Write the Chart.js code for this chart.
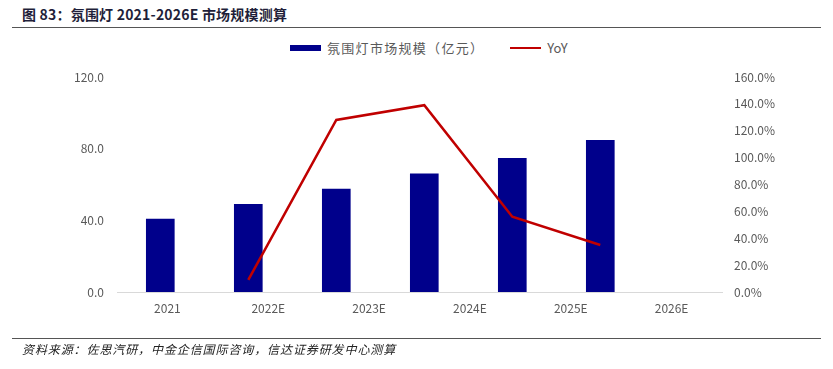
<!DOCTYPE html>
<html>
<head>
<meta charset="utf-8">
<script src="https://cdn.jsdelivr.net/npm/chart.js@4"></script>
<style>
  body { margin: 0; background: #fff; font-family: "Noto Sans CJK SC", "Noto Sans", sans-serif; }
  #wrap { position: relative; width: 833px; height: 369px; overflow: hidden; }
  #chart { position: absolute; left: 0; top: 0; }
  .title { position: absolute; left: 22px; top: 4px; font-size: 14px; font-weight: bold; color: #1f1f3a; letter-spacing: 0.2px; }
  .rule { position: absolute; left: 12px; right: 12px; height: 1px; background: #555; }
  .source { position: absolute; left: 22px; top: 340px; font-size: 12px; font-style: italic; color: #222; letter-spacing: 0.9px; }
  .legend { position: absolute; top: 38px; left: 290px; display: flex; align-items: center; font-size: 13px; color: #595959; }
  .legend .sw { display: inline-block; width: 31px; margin-right: 6px; }
  .legend .bl { letter-spacing: 1.3px; }
</style>
</head>
<body>
<div id="wrap">
  <div class="title">图 83：氛围灯 2021-2026E 市场规模测算</div>
  <div class="rule" style="top:27px"></div>
  <div class="legend" id="legend"></div>
  <canvas id="chart" width="833" height="369"></canvas>
  <div class="rule" style="top:338px"></div>
  <div class="source">资料来源：佐思汽研，中金企信国际咨询，信达证券研发中心测算</div>
</div>
<script>
// data
var CATEGORIES = ['2021', '2022E', '2023E', '2024E', '2025E', '2026E'];
var MARKET_SIZE = [40.7, 48.9, 57.5, 65.9, 74.6, 84.7];   // 亿元
var YOY = [null, 9, 128, 139, 56, 35];                   // %

var BAR_LABEL = '氛围灯市场规模（亿元）';
var LINE_LABEL = 'YoY';
var BAR_COLOR = '#00008B';
var LINE_COLOR = '#C00000';
var TICK_COLOR = '#595959';

// bars/line sit on their own (hidden) index axis, spaced tighter than the labels
function toPoints(arr) {
  var out = [];
  arr.forEach(function (v, i) { if (v !== null) { out.push({ x: i, y: v }); } });
  return out;
}

var legend = document.getElementById('legend');
legend.innerHTML =
  '<span class="sw" style="height:6px;background:' + BAR_COLOR + '"></span>' +
  '<span class="bl">' + BAR_LABEL + '</span>' +
  '<span class="sw" style="height:2px;background:' + LINE_COLOR + ';margin-left:26px"></span>' +
  '<span>' + LINE_LABEL + '</span>';

var tickFont = { family: '"Noto Sans CJK SC", "Noto Sans", sans-serif', size: 12 };

new Chart(document.getElementById('chart'), {
  data: {
    labels: CATEGORIES,
    datasets: [
      {
        type: 'line',
        label: LINE_LABEL,
        data: toPoints(YOY),
        xAxisID: 'xd',
        yAxisID: 'y1',
        borderColor: LINE_COLOR,
        borderWidth: 2.5,
        pointRadius: 0,
        tension: 0,
        order: 0
      },
      {
        type: 'bar',
        label: BAR_LABEL,
        data: toPoints(MARKET_SIZE),
        xAxisID: 'xd',
        yAxisID: 'y',
        backgroundColor: BAR_COLOR,
        barThickness: 28,
        order: 1
      }
    ]
  },
  options: {
    responsive: false,
    animation: false,
    layout: { padding: { top: 77, bottom: 47, left: 0, right: 0 } },
    plugins: { legend: { display: false }, tooltip: { enabled: false } },
    scales: {
      x: {
        type: 'category',
        labels: CATEGORIES,
        position: 'bottom',
        offset: true,
        grid: { display: false, drawTicks: false },
        border: { display: true, color: '#d9d9d9', width: 1 },
        ticks: { color: TICK_COLOR, font: tickFont, padding: 9 },
        afterFit: function (s) { s.height = 30; }
      },
      xd: {
        type: 'linear',
        display: false,
        offset: false,
        bounds: 'data',
        min: -0.492,
        max: 6.383
      },
      y: {
        position: 'left',
        min: 0,
        max: 120,
        grid: { display: false, drawTicks: false },
        border: { display: false },
        ticks: {
          stepSize: 40,
          color: TICK_COLOR,
          font: tickFont,
          padding: 13,
          callback: function (v) { return v.toFixed(1); }
        },
        afterFit: function (s) { s.width = 117; }
      },
      y1: {
        position: 'right',
        min: 0,
        max: 160,
        grid: { display: false, drawTicks: false },
        border: { display: false },
        ticks: {
          stepSize: 20,
          color: TICK_COLOR,
          font: tickFont,
          padding: 12,
          callback: function (v) { return v.toFixed(1) + '%'; }
        },
        afterFit: function (s) { s.width = 111; }
      }
    }
  }
});
</script>
</body>
</html>
